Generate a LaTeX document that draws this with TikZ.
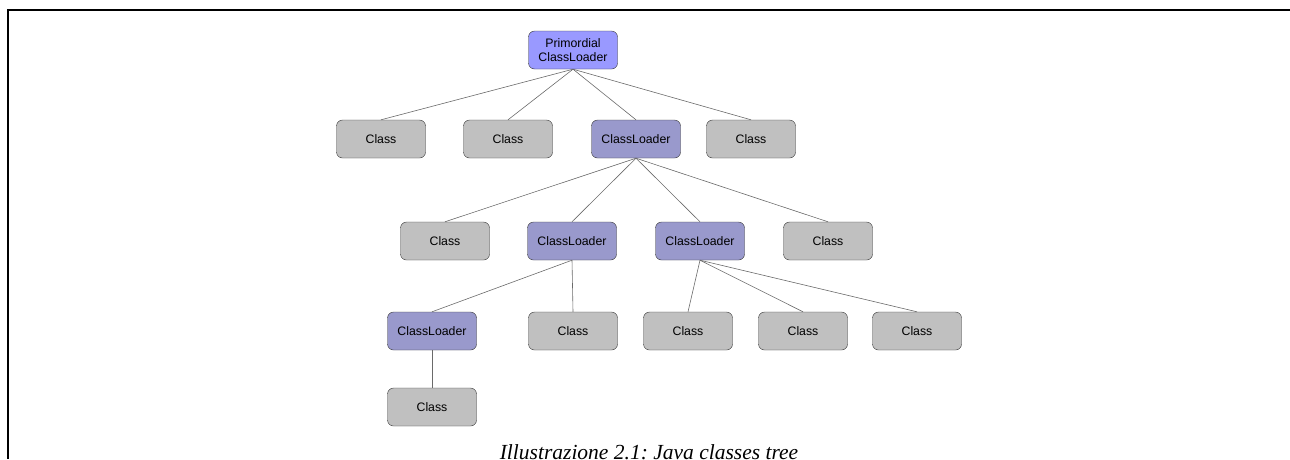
\documentclass[tikz,border=0pt]{standalone}
\usepackage{fontspec}
\setmainfont{Liberation Serif}
\setsansfont{Liberation Sans}
\usetikzlibrary{positioning}

\definecolor{primfill}{HTML}{9999FF}
\definecolor{loaderfill}{HTML}{9999CC}
\definecolor{classfill}{HTML}{C0C0C0}
\definecolor{edgegray}{HTML}{6A6A6A}

\tikzset{
  box/.style = {draw=black!80, rounded corners=6pt, minimum width=89pt,
    minimum height=38pt, inner sep=1pt, align=center,
    font=\sffamily\fontsize{12.3}{13.5}\selectfont},
  cls/.style = {box, fill=classfill},
  loader/.style = {box, fill=loaderfill},
  primloader/.style = {box, fill=primfill},
  link/.style = {draw=edgegray, line width=0.6pt}
}

\begin{document}
\frenchspacing
\begin{tikzpicture}[x=1pt, y=-1pt]
\useasboundingbox (0,0) rectangle (1290,459);
\draw[line width=2.4pt] (1290,10) -- (8,10) -- (8,459);

% root
\node[primloader] (p) at (573,50) {Primordial\\ClassLoader};

% first level
\node[cls] (a1) at (381,139) {Class};
\node[cls] (a2) at (508,139) {Class};
\node[loader] (l1) at (636,139) {ClassLoader};
\node[cls] (a3) at (751,139) {Class};

% second level
\node[cls] (b1) at (445,241) {Class};
\node[loader] (l2) at (572,241) {ClassLoader};
\node[loader] (l3) at (700,241) {ClassLoader};
\node[cls] (b2) at (828,241) {Class};

% third level
\node[loader] (l4) at (432,331) {ClassLoader};
\node[cls] (c1) at (573,331) {Class};
\node[cls] (c2) at (688,331) {Class};
\node[cls] (c3) at (803,331) {Class};
\node[cls] (c4) at (917,331) {Class};

% fourth level
\node[cls] (d1) at (432,407) {Class};

\foreach \n in {a1,a2,l1,a3} \draw[link] (p.south) -- (\n.north);
\foreach \n in {b1,l2,l3,b2} \draw[link] (l1.south) -- (\n.north);
\foreach \n in {l4,c1} \draw[link] (l2.south) -- (\n.north);
\foreach \n in {c2,c3,c4} \draw[link] (l3.south) -- (\n.north);
\draw[link] (l4.south) -- (d1.north);

\node[font=\itshape\fontsize{21.5}{23}\selectfont, anchor=base] (cap) at (649,459)
  {Illustrazione 2.1: Java classes tree};
\end{tikzpicture}
\end{document}
